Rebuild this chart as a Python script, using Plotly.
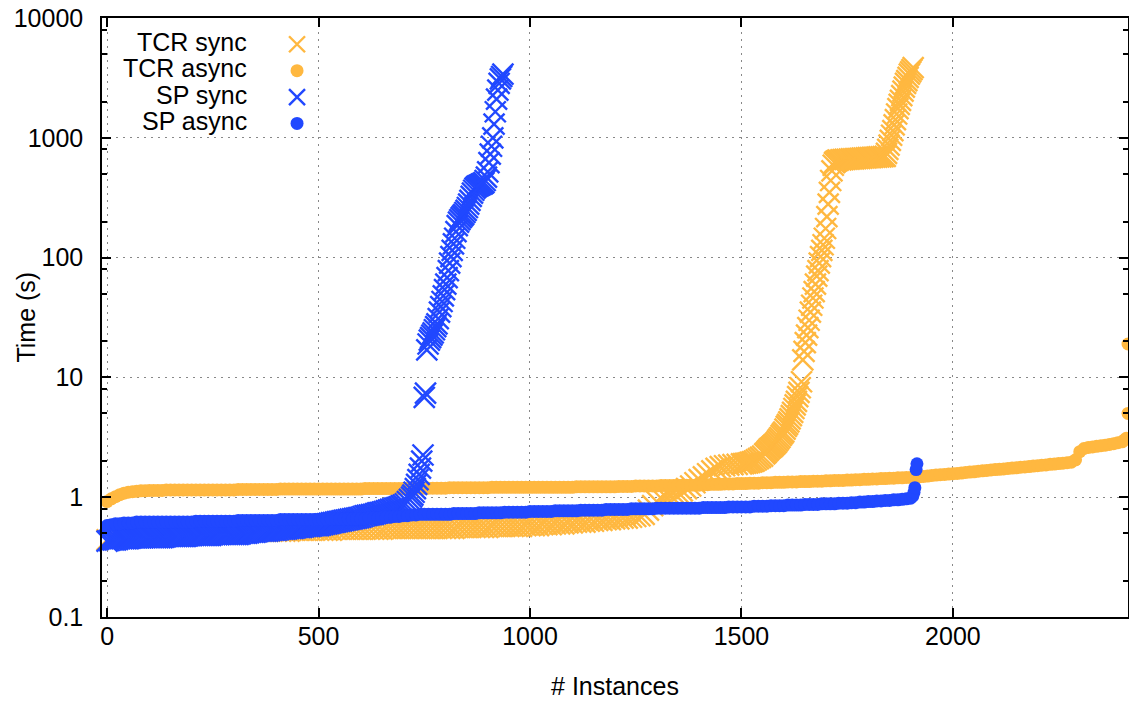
import plotly.graph_objects as go

# ---------------- data ----------------
# TCR sync (sorted run times, one value per sampled instance rank)
tcr_sync_x = (list(range(0, 1501, 10)) + list(range(1505, 1556, 5)) +
              list(range(1558, 1730, 3)) + list(range(1735, 1841, 5)) +
              list(range(1843, 1907, 3)))
tcr_sync_y = [
    0.44, 0.45, 0.46, 0.46, 0.47, 0.47, 0.47, 0.48, 0.48, 0.48, 0.48,
    0.48, 0.48, 0.49, 0.49, 0.49, 0.49, 0.49, 0.49, 0.50, 0.50, 0.50, 0.50, 0.50,
    0.50, 0.50, 0.51, 0.51, 0.51, 0.51, 0.51, 0.51, 0.51, 0.52, 0.52, 0.52,
    0.52, 0.52, 0.52, 0.52, 0.52, 0.52, 0.52, 0.52, 0.53, 0.53,
    0.53, 0.53, 0.53, 0.53, 0.53, 0.53, 0.53, 0.53, 0.54, 0.54,
    0.54, 0.54, 0.54, 0.54, 0.54, 0.54, 0.54, 0.54, 0.54, 0.54,
    0.55, 0.55, 0.55, 0.55, 0.55, 0.55, 0.55, 0.55, 0.55, 0.55,
    0.55, 0.55, 0.55, 0.55, 0.55, 0.55, 0.55, 0.56, 0.56, 0.56, 0.56, 0.56, 0.56,
    0.56, 0.56, 0.57, 0.57, 0.57, 0.57, 0.57, 0.57, 0.57, 0.57, 0.58, 0.58,
    0.58, 0.58, 0.59, 0.59, 0.59, 0.60, 0.60, 0.60, 0.61, 0.61, 0.62, 0.62, 0.62,
    0.63, 0.63, 0.64, 0.64,
    0.65, 0.65, 0.66, 0.66, 0.67, 0.67, 0.68, 0.69, 0.70, 0.72,
    0.78, 0.85, 0.92, 0.98, 1.02, 1.05, 1.08, 1.10, 1.13, 1.18, 1.24, 1.32,
    1.40, 1.48, 1.57, 1.66, 1.74, 1.80, 1.83, 1.85, 1.87, 1.88, 1.90,
    # 1505..1555 step 5
    1.91, 1.92, 1.93, 1.95, 1.97, 2.00, 2.05, 2.10, 2.15, 2.20, 2.30,
    # 1558..1729 step 3
    2.35, 2.42, 2.48, 2.55, 2.60, 2.66, 2.72, 2.78, 2.85, 2.95,
    3.05, 3.15, 3.28, 3.40, 3.50, 3.70, 3.90, 4.05, 4.25, 4.50,
    4.80, 5.10, 5.50, 5.90, 6.30, 6.90, 7.50, 8.20, 9.20, 14.0,
    16.5, 19.5, 22.5, 26.0, 30.0, 35.0, 40.0, 46.0, 52.0, 60.0,
    70.0, 78.0, 90.0, 102.0, 115.0, 128.0, 145.0, 175.0, 220.0, 280.0,
    350.0, 440.0, 530.0, 590.0, 620.0, 635.0, 645.0, 650.0,
    # 1735..1840 step 5
    655.0, 658.0, 660.0, 662.0, 664.0, 666.0, 668.0, 670.0, 672.0, 674.0, 676.0,
    678.0, 680.0, 682.0, 684.0, 686.0, 688.0, 690.0, 692.0, 694.0, 697.0, 700.0,
    # 1843..1906 step 3
    740.0, 800.0, 870.0, 950.0, 1050.0, 1150.0, 1280.0, 1420.0, 1580.0, 1750.0,
    1900.0, 2050.0, 2250.0, 2450.0, 2650.0, 2850.0, 3000.0, 3200.0, 3400.0,
    3550.0, 3700.0, 3850.0,
]

# TCR async
tcr_async_x = list(range(0, 2401, 10)) + [2405, 2410, 2414, 2414]
tcr_async_y = [
    0.92, 0.97, 1.01, 1.05, 1.08, 1.10, 1.11, 1.12, 1.13, 1.13, 1.14,
    1.14, 1.14, 1.14, 1.15, 1.15, 1.15, 1.15, 1.15, 1.15, 1.15,
    1.15, 1.15, 1.15, 1.15, 1.15, 1.15, 1.15, 1.15, 1.15, 1.15,
    1.16, 1.16, 1.16, 1.16, 1.16, 1.16, 1.16, 1.16, 1.16, 1.16,
    1.17, 1.17, 1.17, 1.17, 1.17, 1.17, 1.17, 1.17, 1.17, 1.17,
    1.17, 1.17, 1.17, 1.17, 1.17, 1.17, 1.17, 1.17, 1.17, 1.17,
    1.18, 1.18, 1.18, 1.18, 1.18, 1.18, 1.18, 1.18, 1.18, 1.18,
    1.19, 1.19, 1.19, 1.19, 1.19,
    1.19, 1.19, 1.19, 1.19, 1.19, 1.20, 1.20, 1.20, 1.20, 1.20,
    1.20, 1.20, 1.20, 1.20, 1.20, 1.21, 1.21, 1.21, 1.21, 1.21,
    1.21, 1.21, 1.21, 1.21, 1.21,
    1.21, 1.21, 1.21, 1.21, 1.21, 1.21, 1.21, 1.21, 1.21, 1.21,
    1.22, 1.22, 1.22, 1.22, 1.22, 1.22, 1.22, 1.22, 1.22, 1.22,
    1.23, 1.23, 1.23, 1.23, 1.24, 1.24, 1.24, 1.24, 1.24, 1.24,
    1.25, 1.25, 1.25, 1.25, 1.26, 1.26, 1.26, 1.26, 1.26, 1.26,
    1.27, 1.27, 1.28, 1.28, 1.28, 1.29, 1.29, 1.29, 1.30, 1.30,
    1.30, 1.31, 1.31, 1.31, 1.32, 1.32, 1.32, 1.33, 1.33, 1.33,
    1.34, 1.34, 1.34, 1.35, 1.35, 1.35, 1.36, 1.36, 1.36, 1.37,
    1.37, 1.38, 1.38, 1.38, 1.39, 1.39, 1.40, 1.40, 1.41, 1.41,
    1.42, 1.42, 1.43, 1.43, 1.44, 1.44, 1.45, 1.45, 1.46, 1.46,
    1.47, 1.48, 1.49, 1.50, 1.52, 1.53, 1.54, 1.55, 1.56, 1.57,
    1.58, 1.59, 1.61, 1.62, 1.63, 1.65, 1.66, 1.67, 1.69, 1.70,
    1.71, 1.72, 1.74, 1.75, 1.76, 1.78, 1.79, 1.80, 1.82, 1.83,
    1.85, 1.86, 1.88, 1.89, 1.91, 1.92, 1.94, 1.96,
    2.05, 2.40, 2.55, 2.60, 2.63, 2.66, 2.69, 2.72, 2.76, 2.80, 2.85, 2.90,
    3.00, 3.10, 5.00, 19.0,
]

# SP sync: ranks 0..715 step 5, then 720..936 step 3
sp_sync_x = list(range(0, 716, 5)) + list(range(720, 937, 3))
sp_sync_y = [
    0.43, 0.435, 0.44, 0.44, 0.44, 0.445, 0.45, 0.45, 0.45, 0.45,
    0.45, 0.455, 0.46, 0.46, 0.46, 0.46, 0.46, 0.46, 0.46, 0.46,
    0.46, 0.46, 0.46, 0.46, 0.46, 0.46, 0.46, 0.465, 0.47, 0.47,
    0.47, 0.47, 0.47, 0.47, 0.47, 0.47, 0.47, 0.47, 0.475, 0.48,
    0.48, 0.48, 0.48, 0.48, 0.48, 0.48, 0.48, 0.48, 0.48, 0.48,
    0.49, 0.49, 0.49, 0.49, 0.49, 0.49, 0.49, 0.49, 0.49, 0.49,
    0.49, 0.49, 0.49, 0.495, 0.50, 0.50, 0.50, 0.505, 0.51, 0.51,
    0.51, 0.515, 0.52, 0.52, 0.52, 0.52, 0.52, 0.525, 0.53, 0.53,
    0.53, 0.535, 0.54, 0.54, 0.54, 0.545, 0.55, 0.55, 0.55, 0.555,
    0.56, 0.56, 0.56, 0.565, 0.57, 0.57, 0.57, 0.575, 0.58, 0.58,
    0.58, 0.585, 0.59, 0.595, 0.60, 0.605, 0.61, 0.615, 0.62, 0.625,
    0.63, 0.635, 0.64, 0.645, 0.65, 0.655, 0.66, 0.665, 0.67, 0.675,
    0.68, 0.69, 0.70, 0.705, 0.71, 0.715, 0.72, 0.73, 0.74, 0.745,
    0.75, 0.76, 0.77, 0.78, 0.79, 0.80, 0.81, 0.82, 0.83, 0.845,
    0.86, 0.88, 0.92, 0.96,
    # 720..936 step 3
    1.00, 1.04, 1.10, 1.18, 1.28, 1.40, 1.55, 1.75, 2.00, 2.25,
    6.80, 7.40, 17.0, 19.0, 20.5, 21.5, 22.5, 23.5, 25.0, 26.5,
    28.0, 31.0, 35.0, 39.0, 43.0, 48.0, 54.0, 60.0, 68.0, 78.0,
    90.0, 102.0, 115.0, 130.0, 145.0, 165.0, 185.0, 198.0, 207.0, 215.0,
    222.0, 228.0, 238.0, 248.0, 262.0, 280.0, 300.0, 325.0, 345.0, 365.0,
    380.0, 390.0, 396.0, 400.0, 404.0, 410.0, 415.0, 422.0, 440.0, 470.0,
    520.0, 620.0, 730.0, 850.0, 1000.0, 1300.0, 1650.0, 2100.0, 2500.0, 2850.0,
    3100.0, 3250.0, 3400.0,
]

# SP async
sp_async_x = list(range(0, 1901, 10)) + [1905, 1908, 1910, 1913, 1915]
sp_async_y = [
    0.58, 0.59, 0.60, 0.60, 0.61, 0.61, 0.61, 0.62, 0.62, 0.62, 0.62,
    0.62, 0.62, 0.62, 0.62, 0.62, 0.62, 0.62, 0.62, 0.62, 0.62,
    0.63, 0.63, 0.63, 0.63, 0.63, 0.63, 0.63, 0.63, 0.63, 0.63,
    0.64, 0.64, 0.64, 0.64, 0.64, 0.64, 0.64, 0.64, 0.64, 0.64,
    0.65, 0.65, 0.65, 0.65, 0.65, 0.65, 0.65, 0.65, 0.65, 0.65,
    0.65, 0.65, 0.66, 0.66, 0.66, 0.66, 0.66, 0.66, 0.66, 0.66,
    0.66, 0.67, 0.67, 0.67, 0.68, 0.68, 0.68, 0.69, 0.69, 0.70,
    0.70, 0.71, 0.71, 0.72, 0.72,
    0.72, 0.72, 0.72, 0.72, 0.72, 0.72, 0.73, 0.73, 0.73, 0.73, 0.73, 0.73,
    0.74, 0.74, 0.74, 0.74, 0.74, 0.74, 0.75, 0.75, 0.75, 0.75, 0.75, 0.75,
    0.76, 0.76, 0.76, 0.76, 0.76, 0.76, 0.77, 0.77, 0.77, 0.77, 0.77, 0.77,
    0.78, 0.78, 0.78, 0.78, 0.78, 0.78, 0.79, 0.79, 0.79, 0.79, 0.79, 0.79,
    0.80, 0.80, 0.80, 0.80, 0.80, 0.80, 0.81, 0.81, 0.81, 0.81, 0.81, 0.81,
    0.81, 0.81, 0.81, 0.81, 0.81, 0.82, 0.82, 0.82, 0.82, 0.82, 0.82, 0.83,
    0.83, 0.83, 0.83,
    0.83, 0.83, 0.84, 0.84, 0.84, 0.84, 0.85, 0.85, 0.85, 0.85,
    0.86, 0.86, 0.86, 0.86, 0.87, 0.87, 0.87, 0.87, 0.88, 0.88,
    0.88, 0.88, 0.89, 0.89, 0.89, 0.90, 0.90, 0.91, 0.91, 0.92,
    0.92, 0.93, 0.93, 0.94, 0.94,
    0.95, 0.95, 0.96, 0.97, 0.98,
    1.02, 1.10, 1.20, 1.70, 1.90,
]

series_names = ["TCR sync", "TCR async", "SP sync", "SP async"]
y_ticks = [0.1, 1, 10, 100, 1000, 10000]
y_tick_labels = ["0.1", "1", "10", "100", "1000", "10000"]
y_minor_multipliers = [2, 5, 8]
x_ticks = [0, 500, 1000, 1500, 2000]
x_tick_labels = ["0", "500", "1000", "1500", "2000"]

ORANGE = "#FFB840"
BLUE = "#2148FF"
FONT = "Liberation Sans, Arial, Helvetica, sans-serif"

X_MARK = dict(symbol="x-thin", size=21)
DOT_MARK = dict(symbol="circle", size=13)

def x_marker(color):
    return dict(symbol=X_MARK["symbol"], size=X_MARK["size"], color=color,
                line=dict(color=color, width=2.4))

def dot_marker(color):
    return dict(symbol=DOT_MARK["symbol"], size=DOT_MARK["size"], color=color,
                line=dict(width=0))

fig = go.Figure()
data_specs = [
    (tcr_sync_x, tcr_sync_y, series_names[0], x_marker(ORANGE)),
    (tcr_async_x, tcr_async_y, series_names[1], dot_marker(ORANGE)),
    (sp_sync_x, sp_sync_y, series_names[2], x_marker(BLUE)),
    (sp_async_x, sp_async_y, series_names[3], dot_marker(BLUE)),
]
for xs, ys, nm, mk in data_specs:
    fig.add_trace(go.Scatter(x=xs, y=ys, mode="markers", name=nm, marker=mk,
                             cliponaxis=False, showlegend=False))

# legend keys (gnuplot style: text right-aligned, symbol to the right)
for xs, ys, nm, mk in data_specs:
    fig.add_trace(go.Scatter(x=[None], y=[None], mode="markers", name=" ",
                             marker=mk, showlegend=True, hoverinfo="skip"))

legend_rows_y = [0.9599, 0.9165, 0.8715, 0.8281]
for nm, yy in zip(series_names, legend_rows_y):
    fig.add_annotation(xref="paper", yref="paper", x=0.1433, y=yy,
                       xanchor="right", yanchor="middle", showarrow=False,
                       text=nm, font=dict(size=25, family=FONT, color="black"))

# y-axis title placed as in the reference
fig.add_annotation(xref="paper", yref="paper", x=-0.075, y=0.5,
                   xanchor="center", yanchor="middle", showarrow=False,
                   text="Time (s)", textangle=-90,
                   font=dict(size=25, family=FONT, color="black"))

minor_y = []
for d in [0.1, 1, 10, 100, 1000]:
    for m in y_minor_multipliers:
        minor_y.append(round(d * m, 6))

fig.update_layout(
    width=1129, height=701,
    margin=dict(l=102, r=1, t=18, b=84, autoexpand=False),
    paper_bgcolor="white", plot_bgcolor="white",
    font=dict(family=FONT, size=25, color="black"),
    showlegend=True,
    legend=dict(x=0.1706, y=0.9866, xanchor="left", yanchor="top",
                bgcolor="rgba(0,0,0,0)", font=dict(size=18),
                itemsizing="trace", tracegroupgap=0, borderwidth=0),
)
fig.update_xaxes(
    range=[-12, 2414], tickmode="array", tickvals=x_ticks, ticktext=x_tick_labels,
    ticks="inside", ticklen=9, tickwidth=1.5, tickcolor="black",
    showline=True, linecolor="black", linewidth=1.5, mirror="ticks",
    showgrid=True, gridcolor="#888888", gridwidth=1, griddash="2px,5px",
    zeroline=False, ticklabelstandoff=-4, automargin=False,
    ticklabeloverflow="allow",
    title=dict(text="# Instances", standoff=29, font=dict(size=25)),
)
fig.update_yaxes(
    type="log", range=[-1, 4], tickmode="array", tickvals=y_ticks, ticktext=y_tick_labels,
    ticks="inside", ticklen=9, tickwidth=1.5, tickcolor="black",
    showline=True, linecolor="black", linewidth=1.5, mirror="ticks",
    showgrid=True, gridcolor="#888888", gridwidth=1, griddash="2px,5px",
    zeroline=False, ticklabelstandoff=12, automargin=False,
    ticklabeloverflow="allow",
    minor=dict(tickmode="array", tickvals=minor_y, ticks="inside", ticklen=5,
               tickcolor="black", tickwidth=1.5, showgrid=False),
)

# remove the browser's default 8px body margin so the figure fills the window
fig.write_html("out.html", config={"displayModeBar": False},
               post_script="document.body.style.margin='0';")
